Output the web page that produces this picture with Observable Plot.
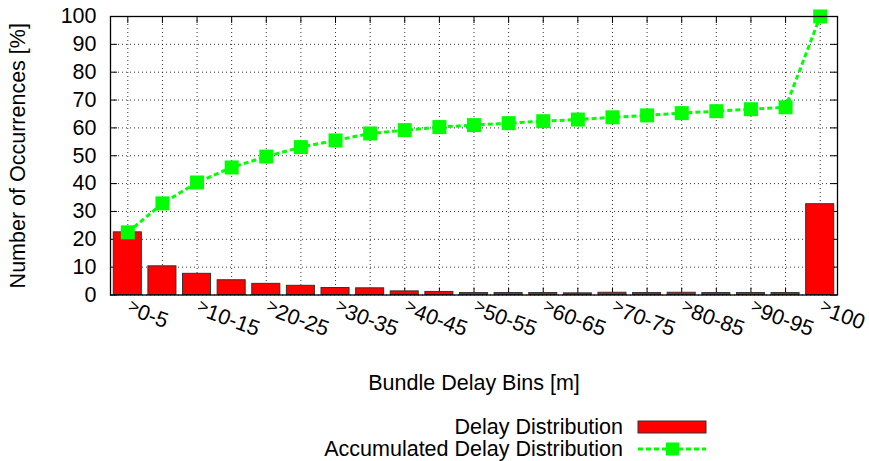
<!DOCTYPE html>
<html>
<head>
<meta charset="utf-8">
<script src="https://cdn.jsdelivr.net/npm/d3@7"></script>
<script src="https://cdn.jsdelivr.net/npm/@observablehq/plot@0.6"></script>
<style>
  html, body { margin: 0; padding: 0; background: #fff; }
  #wrap { position: relative; width: 869px; height: 461px; font-family: 'Liberation Sans', Arial, sans-serif; color: #000; }
  #chart svg { display: block; }
  .leg { position: absolute; left: 0; width: 869px; height: 22px; font-size: 21.5px; }
  .leg span { position: absolute; right: 246px; top: 0; line-height: 22px; white-space: nowrap; }
  .leg svg { position: absolute; left: 636px; top: 0; }
</style>
</head>
<body>
<div id="wrap">
  <div id="chart"></div>
  <div class="leg" style="top:416px">
    <span>Delay Distribution</span>
    <svg width="74" height="22"><rect x="2" y="5" width="68" height="12" fill="#ff0000" stroke="#333" stroke-width="1"/></svg>
  </div>
  <div class="leg" style="top:438px">
    <span>Accumulated Delay Distribution</span>
    <svg width="74" height="22"><line x1="2" x2="70" y1="11" y2="11" stroke="#00ff00" stroke-width="3" stroke-dasharray="5,3"/><rect x="30" y="4.5" width="13" height="13" fill="#00ff00"/></svg>
  </div>
</div>
<script>
const bins = [">0-5", ">5-10", ">10-15", ">15-20", ">20-25", ">25-30", ">30-35", ">35-40", ">40-45", ">45-50",
  ">50-55", ">55-60", ">60-65", ">65-70", ">70-75", ">75-80", ">80-85", ">85-90", ">90-95", ">95-100", ">100"];
const delay = [22.5, 10.3, 7.6, 5.3, 4.0, 3.3, 2.5, 2.4, 1.3, 1.1, 0.7, 0.7, 0.7, 0.6, 0.8, 0.7, 0.8, 0.7, 0.7, 0.7, 32.6];
const accumulated = [22.5, 32.9, 40.4, 45.8, 49.7, 53.1, 55.5, 58.0, 59.2, 60.3, 61.0, 61.7, 62.4, 63.0, 63.8, 64.5, 65.3, 66.0, 66.7, 67.4, 100];
const shownLabels = [">0-5", ">10-15", ">20-25", ">30-35", ">40-45", ">50-55", ">60-65", ">70-75", ">80-85", ">90-95", ">100"];
const yTicks = [0, 10, 20, 30, 40, 50, 60, 70, 80, 90, 100];

const data = bins.map((b, i) => ({bin: b, delay: delay[i], acc: accumulated[i]}));

const W = 869, H = 400, mL = 110, mR = 32, mT = 16, mB = H - 294.5;
const fw = W - mL - mR, fh = H - mT - mB;

const chart = Plot.plot({
  width: W, height: H,
  marginLeft: mL, marginRight: mR, marginTop: mT, marginBottom: mB,
  style: {fontFamily: "'Liberation Sans', Arial, sans-serif", fontSize: "21.5px", background: "#fff", color: "#000", overflow: "visible"},
  x: {domain: bins, paddingInner: 0.19, paddingOuter: 0.095, round: false, axis: null},
  y: {domain: [0, 100], axis: null},
  marks: [
    Plot.gridY(yTicks, {stroke: "#000", strokeOpacity: 0.8, strokeDasharray: "1,3"}),
    Plot.gridX(bins, {stroke: "#000", strokeOpacity: 0.8, strokeDasharray: "1,3"}),
    Plot.ruleY(yTicks, {stroke: "#000", strokeWidth: 1, strokeDasharray: `7,${fw - 14},7,0`}),
    Plot.ruleX(bins, {x: d => d, stroke: "#000", strokeWidth: 1, strokeDasharray: `7,${fh - 14},7,0`}),
    Plot.barY(data, {x: "bin", y: "delay", fill: "#ff0000", stroke: "#333", strokeWidth: 1}),
    Plot.line(data, {x: "bin", y: "acc", stroke: "#00ff00", strokeWidth: 3, strokeDasharray: "5,3", strokeLinecap: "butt"}),
    Plot.dot(data, {x: "bin", y: "acc", symbol: "square", r: 7.9, fill: "#00ff00", stroke: "none"}),
    Plot.frame({stroke: "#000", strokeWidth: 1.3}),
    Plot.axisY(yTicks, {tickSize: 0, tickPadding: 14, label: null}),
    Plot.text(shownLabels, {x: d => d, frameAnchor: "bottom", dx: -2, dy: 19, rotate: 20, textAnchor: "start"}),
    Plot.text(["Number of Occurrences [%]"], {frameAnchor: "left", dx: -92, rotate: -90, textAnchor: "middle"}),
    Plot.text(["Bundle Delay Bins [m]"], {frameAnchor: "bottom", dy: 95})
  ]
});

// Render the leading ">" of each bin label smaller and raised, as in the reference.
d3.select(chart).selectAll("text").each(function () {
  const t = this.textContent;
  if (!shownLabels.includes(t) || this.querySelector("tspan")) return;
  const sel = d3.select(this);
  sel.text(null);
  sel.append("tspan").attr("font-size", "18px").attr("dy", "-4px").text(t.slice(0, 1));
  sel.append("tspan").attr("dy", "4px").text(t.slice(1));
});

document.getElementById("chart").appendChild(chart);
</script>
</body>
</html>
